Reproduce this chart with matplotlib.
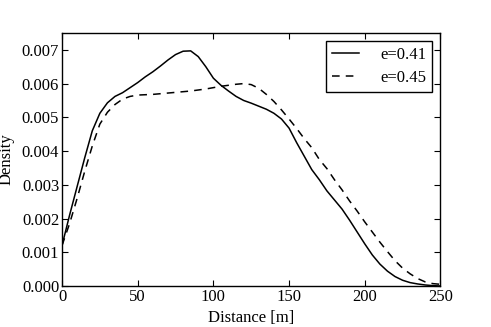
import matplotlib
matplotlib.use("Agg")
import matplotlib.pyplot as plt
import numpy as np

distance = [0, 5, 10, 15, 20, 25, 30, 35, 40, 45, 50, 55, 60, 65, 70, 75, 80, 85, 90, 95,
            100, 105, 110, 115, 120, 125, 130, 135, 140, 145, 150, 155, 160, 165, 170, 175,
            180, 185, 190, 195, 200, 205, 210, 215, 220, 225, 230, 235, 240, 245, 250]

density_041 = [1.2, 2.1, 2.95, 3.8, 4.6, 5.12, 5.43, 5.62, 5.73, 5.88, 6.03, 6.2, 6.35, 6.52,
               6.7, 6.86, 6.96, 6.97, 6.8, 6.5, 6.16, 5.95, 5.78, 5.62, 5.5, 5.42, 5.33, 5.24,
               5.12, 4.95, 4.68, 4.25, 3.85, 3.45, 3.15, 2.82, 2.55, 2.28, 1.95, 1.6, 1.25,
               0.92, 0.65, 0.44, 0.28, 0.17, 0.1, 0.06, 0.03, 0.01, 0.0]

density_045 = [1.2, 1.85, 2.6, 3.4, 4.15, 4.8, 5.15, 5.38, 5.54, 5.62, 5.66, 5.67, 5.68, 5.7,
               5.72, 5.74, 5.76, 5.78, 5.81, 5.84, 5.88, 5.92, 5.95, 5.98, 6.0, 5.97, 5.86,
               5.68, 5.47, 5.22, 4.95, 4.67, 4.37, 4.1, 3.75, 3.48, 3.15, 2.85, 2.52, 2.22,
               1.9, 1.6, 1.3, 1.02, 0.75, 0.53, 0.36, 0.22, 0.12, 0.07, 0.05]

labels = ["e=0.41", "e=0.45"]
xticks = [0, 50, 100, 150, 200, 250]
yticks = [0.000, 0.001, 0.002, 0.003, 0.004, 0.005, 0.006, 0.007]

plt.rcParams['font.family'] = ['Liberation Serif', 'DejaVu Serif']
plt.rcParams['font.size'] = 12

fig = plt.figure(figsize=(4.91, 3.27), dpi=100)
ax = fig.add_axes([0.1263, 0.1254, 0.7707, 0.7737])

x = np.array(distance)
ax.plot(x, np.array(density_041) / 1000, color='black', linestyle='-', linewidth=1.1, label=labels[0])
ax.plot(x, np.array(density_045) / 1000, color='black', linestyle=(0, (5, 4)), linewidth=1.1, label=labels[1])

ax.set_xlim(0, 250)
ax.set_ylim(0, 0.0075)
ax.set_xticks(xticks)
ax.set_yticks(yticks)
ax.set_yticklabels([f"{v:.3f}" for v in yticks])
ax.tick_params(direction='in', top=True, right=True, length=4, width=0.8, labelsize=12, pad=2)
ax.set_xlabel("Distance [m]", fontsize=12, labelpad=4)
ax.set_ylabel("Density", fontsize=12, labelpad=5)
for s in ax.spines.values():
    s.set_linewidth(1.0)

leg = ax.legend(loc='upper right', fontsize=12, frameon=True, fancybox=False,
                edgecolor='black', framealpha=1, handlelength=1.6, handletextpad=1.3,
                borderaxespad=0.5, borderpad=0.35, labelspacing=0.4)
leg.get_frame().set_linewidth(1.0)

fig.savefig("out.png", dpi=100)
